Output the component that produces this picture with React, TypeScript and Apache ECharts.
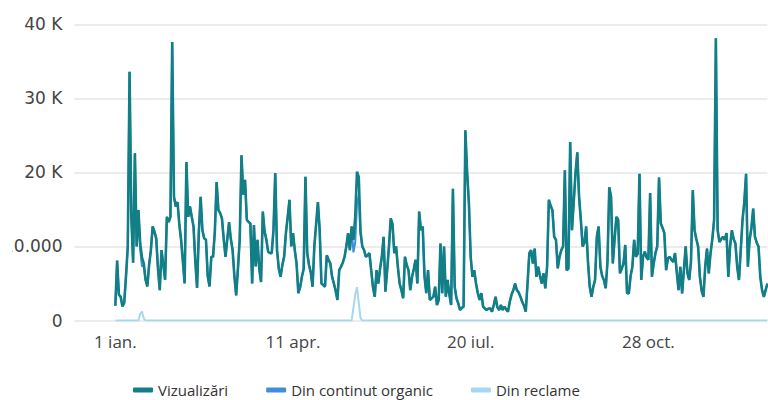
import React, { useEffect, useRef } from "react";
import * as echarts from "echarts";

// ---- data ----
const monthNames = ["ian.", "feb.", "mar.", "apr.", "mai", "iun.", "iul.", "aug.", "sept.", "oct.", "nov.", "dec."];
const leadDays = 23; // empty days shown on the axis before 1 ian.
const xTickLabels = ["1 ian.", "11 apr.", "20 iul.", "28 oct."];
const seriesNames = ["Vizualizări", "Din continut organic", "Din reclame"];

// daily views, from 1 ian.
const views = [
  2000, 8100, 3500, 3200, 1900, 2400, 6000, 10000, 33600, 14000,
  7800, 22600, 10000, 14900, 10400, 8500, 7700, 5500, 4600, 7500,
  9500, 12700, 12000, 11100, 7000, 4100, 9500, 7500, 5500, 14000,
  13300, 14000, 37600, 16700, 15400, 16000, 13000, 10900, 8000, 5000,
  21400, 14000, 15400, 14000, 12700, 8000, 4400, 12000, 16700, 12200,
  11100, 10900, 6000, 4600, 8600, 8600, 12000, 18700, 14900, 14500,
  13800, 11000, 8600, 11000, 13300, 11000, 9500, 6000, 3400, 7000,
  10900, 22300, 17000, 19000, 13600, 13300, 13100, 5000, 12900, 7300,
  10900, 7000, 5200, 14700, 12000, 10900, 9300, 9100, 9100, 12200,
  19900, 9500, 7000, 5900, 7500, 8600, 11800, 14000, 16300, 10000,
  11800, 9500, 7700, 3700, 4500, 5900, 7000, 19400, 9100, 7500,
  6500, 4560, 10000, 13000, 16000, 12200, 5000, 4800, 4560, 8800,
  8200, 7700, 5900, 5000, 4000, 2770, 6800, 7260, 7800, 8600,
  10000, 11800, 9500, 12700, 10900, 14000, 20100, 19400, 12000, 10000,
  9500, 8600, 8800, 9100, 6800, 4500, 3200, 6800, 5000, 7000,
  8600, 11300, 3900, 6800, 10000, 13800, 13000, 9100, 10000, 7260,
  5000, 4100, 3000, 8600, 7500, 6800, 4100, 5900, 7000, 8200,
  5000, 14700, 12200, 12700, 6000, 3700, 6800, 2770, 3000, 3200,
  4560, 2090, 2770, 10400, 3700, 10000, 3200, 5470, 3500, 2090,
  17800, 4560, 3000, 2320, 1420, 1700, 1860, 25700, 20000, 15800,
  8600, 5900, 6800, 5000, 3700, 2770, 3700, 1860, 1600, 1420,
  1600, 1650, 1190, 2090, 3200, 1800, 1420, 2090, 1420, 1860,
  1500, 1190, 2540, 3500, 4100, 5000, 4100, 3800, 3200, 2540,
  2000, 1190, 5000, 9100, 9500, 7700, 9700, 5900, 7260, 6000,
  5000, 6370, 4350, 7260, 16300, 15500, 14900, 11300, 10900, 7050,
  8600, 9500, 10000, 20300, 6800, 7000, 24100, 12200, 16000, 19900,
  22700, 16700, 13600, 10000, 10500, 12700, 8000, 4560, 3200, 4560,
  5470, 11300, 12700, 7260, 6000, 5470, 4350, 8000, 18000, 16700,
  7700, 11000, 14000, 13600, 6370, 7000, 7700, 10200, 3670, 3670,
  6000, 7260, 10900, 8600, 9000, 19800, 5470, 8600, 9300, 8500,
  8200, 17200, 5900, 7700, 9100, 10000, 19300, 13100, 12500, 11800,
  6800, 8400, 8600, 8200, 7900, 9100, 6500, 4100, 7260, 3670,
  6800, 10000, 6370, 5470, 8000, 17600, 12200, 11000, 10000, 5900,
  4000, 3200, 7260, 9700, 6370, 9100, 11000, 13600, 38100, 12200,
  10600, 11000, 11300, 10900, 11800, 5900, 10000, 12200, 11000, 10400,
  7260, 5470, 9500, 13600, 16000, 19800, 7260, 10900, 12500, 15100,
  11300, 10500, 10000, 5900, 4100, 3200, 4100, 5000,
];

// days (from 1 ian.) on which views came from ads; every other day is 0
const adsDays = [13, 14, 15, 16, 133, 134, 135, 136, 137, 138, 139];
const adsValues = [0, 900, 1200, 300, 0, 1700, 3500, 4500, 2400, 300, 0];

// ---- chart ----
export default function App() {
  const ref = useRef<HTMLDivElement>(null);

  useEffect(() => {
    if (!ref.current) return;
    const chart = echarts.init(ref.current, undefined, { renderer: "svg" });

    const categories: string[] = [];
    for (let i = 0; i < leadDays + views.length; i++) {
      const d = new Date(Date.UTC(2022, 11, 9 + i));
      categories.push(`${d.getUTCDate()} ${monthNames[d.getUTCMonth()]}`);
    }
    const pad: (number | null)[] = new Array(leadDays).fill(null);
    const ads = views.map((_, i) => {
      const k = adsDays.indexOf(i);
      return k >= 0 ? adsValues[k] : 0;
    });
    const organic = views.map((v, i) => v - ads[i]);

    const font = "'Open Sans', 'Noto Sans', sans-serif";
    const yFont = "'DejaVu Sans', sans-serif";
    const colors = ["#127f87", "#3f8fd8", "#a6d7f3"];

    chart.setOption({
      animation: false,
      textStyle: { fontFamily: font },
      grid: { left: 72, right: 0.6, top: 24.3, bottom: 79.5, containLabel: false },
      legend: {
        left: 128,
        top: 376,
        padding: 5,
        icon: "roundRect",
        itemWidth: 20,
        itemHeight: 5,
        itemGap: 38,
        data: seriesNames,
        textStyle: { fontSize: 15, color: "#333", fontFamily: font, lineHeight: 18 },
      },
      xAxis: {
        type: "category",
        boundaryGap: false,
        data: categories,
        axisLine: { show: false },
        axisTick: { show: false },
        splitLine: { show: false },
        axisLabel: {
          interval: (index: number) => index >= leadDays && (index - leadDays) % 100 === 0,
          formatter: (_v: string, index: number) => xTickLabels[(index - leadDays) / 100] ?? "",
          fontSize: 17,
          color: "#444",
          margin: 12,
          fontFamily: font,
        },
      },
      yAxis: {
        type: "value",
        min: 0,
        max: 40000,
        interval: 10000,
        axisLine: { show: false },
        axisTick: { show: false },
        splitLine: { lineStyle: { color: "#e6e6e6", width: 1.5 } },
        axisLabel: {
          formatter: (v: number) => (v === 0 ? "0" : v === 10000 ? "10.000" : `${v / 1000} K`),
          fontSize: 17,
          color: "#444",
          margin: 12,
          fontFamily: yFont,
        },
      },
      series: [
        {
          name: seriesNames[1],
          type: "line",
          data: pad.concat(organic),
          showSymbol: false,
          itemStyle: { color: colors[1] },
          lineStyle: { width: 2, color: colors[1] },
          z: 2,
        },
        {
          name: seriesNames[2],
          type: "line",
          data: pad.concat(ads),
          showSymbol: false,
          itemStyle: { color: colors[2] },
          lineStyle: { width: 2, color: colors[2] },
          z: 3,
        },
        {
          name: seriesNames[0],
          type: "line",
          data: pad.concat(views),
          showSymbol: false,
          itemStyle: { color: colors[0] },
          lineStyle: { width: 2.6, color: colors[0] },
          z: 4,
        },
      ],
    });

    return () => chart.dispose();
  }, []);

  return (
    <div style={{ position: "fixed", left: 0, top: 0, width: 768, height: 400, overflow: "hidden", background: "#fff" }}>
      <div style={{ position: "absolute", left: 12, top: 0, width: 756, height: 400, overflow: "hidden" }}>
        <div ref={ref} style={{ position: "absolute", left: -12, top: 0, width: 768, height: 400 }} />
      </div>
    </div>
  );
}
